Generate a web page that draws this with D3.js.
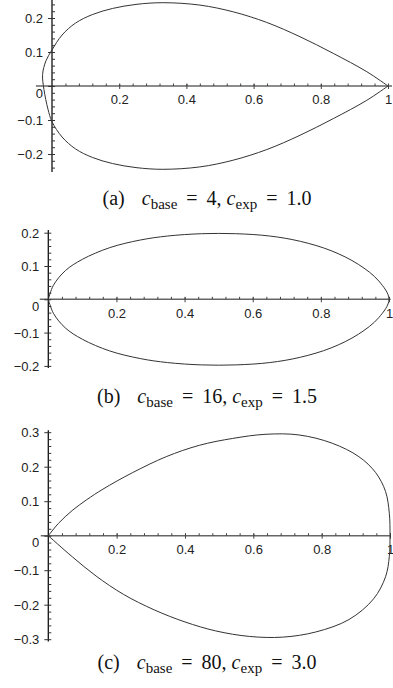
<!DOCTYPE html>
<html>
<head>
<meta charset="utf-8">
<script src="https://cdn.jsdelivr.net/npm/d3@7"></script>
<style>
  body { margin: 0; background: #fff; }
  svg text { font-family: "Liberation Sans", Arial, sans-serif; }
  .cap { font-family: "Liberation Serif", "DejaVu Serif", serif; }
</style>
</head>
<body>
<svg id="chart" width="393" height="688"></svg>
<script>
// points, [x, y]
var curveA = [[1, 0], [0.937, 0.042], [0.837, 0.096], [0.738, 0.145], [0.639, 0.187], [0.54, 0.218],
  [0.44, 0.238], [0.33, 0.245], [0.25, 0.24], [0.18, 0.228], [0.12, 0.21], [0.07, 0.185],
  [0.03, 0.15], [0, 0.106], [-0.018, 0.074], [-0.028, 0.034], [-0.024, -0.01], [-0.012, -0.068],
  [0, -0.105], [0.03, -0.15], [0.07, -0.185], [0.12, -0.21], [0.18, -0.228], [0.25, -0.24],
  [0.33, -0.245], [0.44, -0.238], [0.54, -0.218], [0.639, -0.187], [0.738, -0.145], [0.837, -0.096],
  [0.937, -0.042], [1, 0]];

var curveB = [[0, 0], [0.015, 0.042], [0.05, 0.086], [0.1, 0.12], [0.18, 0.155], [0.27, 0.178],
  [0.35, 0.19], [0.45, 0.197], [0.55, 0.197], [0.65, 0.19], [0.74, 0.174], [0.83, 0.146],
  [0.91, 0.105], [0.97, 0.055], [1, 0],
  [0.97, -0.055], [0.91, -0.105], [0.83, -0.146], [0.74, -0.174], [0.65, -0.19], [0.55, -0.197],
  [0.45, -0.197], [0.35, -0.19], [0.27, -0.178], [0.18, -0.155], [0.1, -0.12], [0.05, -0.086],
  [0.015, -0.042], [0, 0]];

var curveC = [[0, 0], [0.03, 0.036], [0.07, 0.073], [0.112, 0.104], [0.16, 0.135], [0.247, 0.183],
  [0.345, 0.229], [0.442, 0.262], [0.54, 0.282], [0.637, 0.294], [0.734, 0.292], [0.831, 0.268],
  [0.909, 0.229], [0.958, 0.183], [0.987, 0.128], [0.998, 0.065], [1, 0],
  [0.998, -0.06], [0.987, -0.119], [0.952, -0.183], [0.88, -0.243], [0.783, -0.279], [0.686, -0.294],
  [0.589, -0.292], [0.49, -0.276], [0.4, -0.25], [0.31, -0.215], [0.22, -0.17], [0.14, -0.117],
  [0.07, -0.061], [0, 0]];

var xTicks = [0.2, 0.4, 0.6, 0.8, 1];
var xMinor = d3.range(1, 26).map(function(i) { return +(i * 0.04).toFixed(2); });
var yTicksA = [-0.2, -0.1, 0, 0.1, 0.2];
var yTicksB = [-0.2, -0.1, 0, 0.1, 0.2];
var yTicksC = [-0.3, -0.2, -0.1, 0, 0.1, 0.2, 0.3];

var captions = [
  {lab: "(a)", base: "4", exp: "1.0"},
  {lab: "(b)", base: "16", exp: "1.5"},
  {lab: "(c)", base: "80", exp: "3.0"}
];

var svg = d3.select("#chart");

var panels = [
  {data: curveA, yTicks: yTicksA, xr: [52, 388], y0: 86, yPer: 340, xDom: [-0.048, 1.012], yDom: [-0.253, 0.26], capY: 205},
  {data: curveB, yTicks: yTicksB, xr: [48.3, 389], y0: 299.3, yPer: 333, xDom: [-0.025, 1.005], yDom: [-0.206, 0.208], capY: 403},
  {data: curveC, yTicks: yTicksC, xr: [48.3, 390], y0: 535.7, yPer: 345, xDom: [-0.022, 1.0], yDom: [-0.307, 0.306], capY: 669}
];

var fmt = d3.format("~g");

panels.forEach(function(p, i) {
  var x = d3.scaleLinear().domain([0, 1]).range(p.xr);
  var y = d3.scaleLinear().domain([0, 0.1]).range([p.y0, p.y0 - p.yPer / 10]);
  var g = svg.append("g");

  // x axis line
  g.append("line")
    .attr("x1", x(p.xDom[0])).attr("x2", x(p.xDom[1]))
    .attr("y1", y(0)).attr("y2", y(0))
    .attr("stroke", "#666").attr("stroke-width", 1.6);

  // minor ticks above x axis
  g.append("g")
    .attr("transform", "translate(0," + y(0) + ")")
    .call(d3.axisTop(x).tickValues(xMinor).tickSize(2.5).tickFormat(""))
    .call(function(s) { s.select(".domain").remove(); s.selectAll("line").attr("stroke", "#444"); });

  // major ticks + labels
  g.append("g")
    .attr("transform", "translate(0," + (y(0) - 2) + ")")
    .call(d3.axisBottom(x).tickValues(xTicks).tickSize(5).tickPadding(6).tickFormat(fmt))
    .call(function(s) {
      s.select(".domain").remove();
      s.selectAll("line").attr("stroke", "#444");
      s.selectAll("text").attr("font-size", 13).attr("fill", "#222")
        .attr("font-family", "Liberation Sans, Arial, sans-serif");
    });

  // y axis
  g.append("line")
    .attr("x1", x(0)).attr("x2", x(0))
    .attr("y1", y(p.yDom[0])).attr("y2", y(p.yDom[1]))
    .attr("stroke", "#111").attr("stroke-width", 1.3);

  var yMinor = d3.range(Math.ceil(p.yDom[0] / 0.02), Math.floor(p.yDom[1] / 0.02) + 1)
    .map(function(k) { return +(k * 0.02).toFixed(2); });

  g.append("g")
    .attr("transform", "translate(" + x(0) + ",0)")
    .call(d3.axisRight(y).tickValues(yMinor).tickSize(3).tickFormat(""))
    .call(function(s) { s.select(".domain").remove(); s.selectAll("line").attr("stroke", "#333"); });

  g.append("g")
    .attr("transform", "translate(" + x(0) + ",0)")
    .call(d3.axisLeft(y).tickValues(p.yTicks).tickSize(4).tickPadding(5).tickFormat(fmt))
    .call(function(s) {
      s.select(".domain").remove();
      s.selectAll("line").attr("stroke", "#333");
      s.selectAll("text").attr("font-size", 13).attr("fill", "#222")
        .attr("font-family", "Liberation Sans, Arial, sans-serif")
        .attr("dy", function(d) { return d === 0 ? "0.85em" : "0.35em"; });
    });

  // the curve
  var line = d3.line()
    .x(function(d) { return x(d[0]); })
    .y(function(d) { return y(d[1]); })
    .curve(d3.curveCatmullRom.alpha(0.5));

  g.append("path")
    .datum(p.data)
    .attr("fill", "none")
    .attr("stroke", "#333")
    .attr("stroke-width", 1)
    .attr("d", line);

  // caption
  var c = captions[i];
  var t = svg.append("text")
    .attr("class", "cap")
    .attr("x", 207).attr("y", p.capY)
    .attr("text-anchor", "middle")
    .attr("font-size", 20)
    .attr("fill", "#111");
  t.append("tspan").text(c.lab);
  t.append("tspan").attr("dx", 17).attr("font-style", "italic").text("c");
  t.append("tspan").attr("font-size", 15).attr("dy", 4).text("base");
  t.append("tspan").attr("dx", 9).attr("dy", -4).text("=");
  t.append("tspan").attr("dx", 9).text(c.base + ",");
  t.append("tspan").attr("dx", 5).attr("font-style", "italic").text("c");
  t.append("tspan").attr("font-size", 15).attr("dy", 4).text("exp");
  t.append("tspan").attr("dx", 9).attr("dy", -4).text("=");
  t.append("tspan").attr("dx", 9).text(c.exp);
});
</script>
</body>
</html>
